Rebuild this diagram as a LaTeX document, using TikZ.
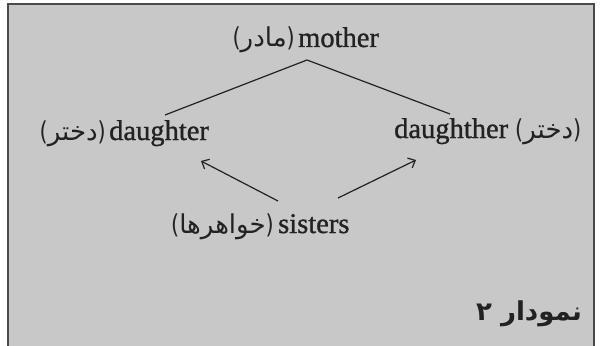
\documentclass[tikz,border=0pt]{standalone}
\usepackage{fontspec}
\setmainfont{Liberation Serif}
\newfontfamily\enfont{Liberation Serif}[FakeBold=1.1]
\newfontfamily\fa[Script=Arabic]{DejaVu Sans}
\newfontfamily\fapar{DejaVu Sans}[FakeStretch=0.8]
\TeXXeTstate=1
\usetikzlibrary{arrows.meta}
\definecolor{boxgrey}{HTML}{C8C8C8}
\definecolor{boxedge}{HTML}{4A4A4A}
\definecolor{ink}{HTML}{222222}
\newcommand{\fw}[1]{{\fapar(}{\fa\beginR #1\endR}{\fapar)}}
\begin{document}
\begin{tikzpicture}[x=1pt,y=-1pt,
  en/.style={inner sep=0pt,text=ink,font=\enfont\fontsize{28.5}{28.5}\selectfont},
  fatext/.style={inner sep=0pt,text=ink,font=\fontsize{26}{26}\selectfont},
  link/.style={draw=ink,line width=1.2pt},
  arr/.style={link,-{Straight Barb[length=6pt,width=11pt,line width=1.2pt]}}]
\path[use as bounding box,clip] (0,0) rectangle (604,345);
\fill[white] (0,0) rectangle (604,345);
\draw[fill=boxgrey,draw=boxedge,line width=1.5pt] (8,4) rectangle (594,360);
% mother
\node[en,anchor=base west] (mother) at (298,47) {mother};
\node[fatext,anchor=base east] (motherfa) at (295,47) {\fw{مادر}};
% left daughter
\node[en,anchor=base west] (dL) at (109,140) {daughter};
\node[fatext,anchor=base east] (dLfa) at (106,140) {\fw{دختر}};
% right daughter
\node[en,anchor=base west] (dR) at (394,138) {daughther};
\node[fatext,anchor=base west] (dRfa) at (515,138) {\fw{دختر}};
% sisters
\node[en,anchor=base west] (sis) at (278,233) {sisters};
\node[fatext,anchor=base east] (sisfa) at (274,233) {\fw{خواهرها}};
% caption
\node[inner sep=0pt,text=ink,font=\fa\bfseries\fontsize{26}{26}\selectfont,anchor=base east] (cap) at (582,320) {\beginR نمودار ۲\endR};
% connectors
\coordinate (apex) at (307,60);
\coordinate (lend) at (165,115);
\coordinate (rend) at (450,114);
\draw[link] (lend) -- (apex) -- (rend);
\coordinate (ltail) at (278,201);
\coordinate (ltip) at (201,161);
\coordinate (rtail) at (338,198);
\coordinate (rtip) at (416,160);
\draw[arr] (ltail) -- (ltip);
\draw[arr] (rtail) -- (rtip);
\end{tikzpicture}
\end{document}
